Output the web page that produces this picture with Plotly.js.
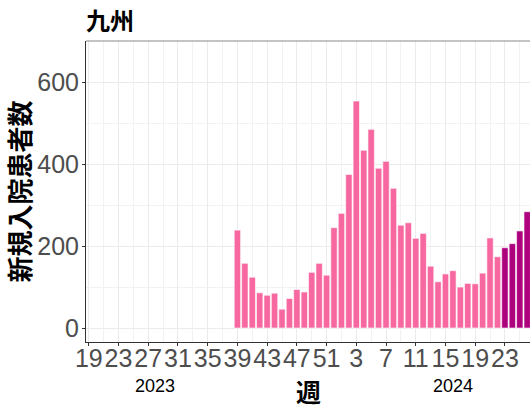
<!DOCTYPE html>
<html>
<head>
<meta charset="utf-8">
<script src="https://cdn.plot.ly/plotly-3.0.1.min.js"></script>
<style>
html,body{margin:0;padding:0;overflow:hidden;background:#fff;}
#chart{width:540px;height:409px;}
</style>
</head>
<body>
<div id="chart"></div>
<script>
// ---- data ----
const weeks2023 = [39,40,41,42,43,44,45,46,47,48,49,50,51,52];
const values2023 = [239,158,124,86,80,85,46,72,94,88,136,158,129,245];
const weeks2024 = [1,2,3,4,5,6,7,8,9,10,11,12,13,14,15,16,17,18,19,20,21,22,23,24,25,26];
const values2024 = [280,375,554,434,485,390,407,341,251,257,219,231,151,113,132,140,100,109,108,134,220,174,196,206,237,284];
const darkFromWeek2024 = 23;   // bars from this 2024 week use the darker colour
const tickWeeks = [19,23,27,31,35,39,43,47,51,3,7,11,15,19,23];
const tickYears = [2023,2023,2023,2023,2023,2023,2023,2023,2023,2024,2024,2024,2024,2024,2024];
const yearLabels = ['2023','2024'];
const startYear = 2023, startWeek = 19, weeksPerYear = 52;

function pos(year, week){ return (year - startYear) * weeksPerYear + week - startWeek; }

const xs = [], ys = [], cols = [], txt = [];
weeks2023.forEach((w,i)=>{ xs.push(pos(2023,w)); ys.push(values2023[i]); cols.push('#F768A1'); txt.push('2023-W'+w); });
weeks2024.forEach((w,i)=>{ xs.push(pos(2024,w)); ys.push(values2024[i]); cols.push(w >= darkFromWeek2024 ? '#AE017E' : '#F768A1'); txt.push('2024-W'+w); });

const tickvals = tickWeeks.map((w,i)=>pos(tickYears[i], w));
const ticktext = tickWeeks.map(String);

const cjk = '"Noto Sans CJK JP", "Noto Sans CJK SC", sans-serif';
const latin = '"Liberation Sans", Arial, sans-serif';

const trace = {
  type:'bar', x:xs, y:ys, text:txt, hoverinfo:'text+y', textposition:'none',
  width:0.86,
  marker:{color:cols, line:{color:'#ffffff', width:0.6}}
};

const layout = {
  width:540, height:409,
  margin:{l:86, r:9, t:41, b:67, pad:0},
  paper_bgcolor:'#fff', plot_bgcolor:'#fff',
  showlegend:false,
  bargap:0,
  title:{text:'<b>九州</b>', font:{family:cjk, size:24, color:'#000'},
         x:86/540, xref:'container', xanchor:'left', y:1-22/409, yref:'container', yanchor:'middle'},
  xaxis:{
    range:[-0.377, 59.51],
    tickmode:'array', tickvals:tickvals, ticktext:ticktext, tickangle:0,
    tickfont:{family:latin, size:25, color:'#4d4d4d'},
    ticklabelstandoff:-9,
    ticks:'outside', ticklen:3, tickcolor:'#333', tickwidth:1,
    showgrid:true, gridcolor:'#ebebeb', gridwidth:1,
    minor:{tickmode:'linear', tick0:0, dtick:2, showgrid:true, gridcolor:'#f2f2f2', gridwidth:1, ticks:''},
    showline:true, linecolor:'#333', linewidth:1,
    zeroline:false, fixedrange:true,
    title:{text:'<b>週</b>', font:{family:cjk, size:25, color:'#000'}, standoff:14}
  },
  yaxis:{
    range:[-34.1, 700.7],
    tickmode:'linear', tick0:0, dtick:200,
    tickfont:{family:latin, size:25, color:'#4d4d4d'},
    ticklabelstandoff:-2,
    ticks:'outside', ticklen:3, tickcolor:'#333', tickwidth:1,
    showgrid:true, gridcolor:'#ebebeb', gridwidth:1,
    minor:{tickmode:'linear', tick0:0, dtick:100, showgrid:true, gridcolor:'#f2f2f2', gridwidth:1, ticks:''},
    showline:true, linecolor:'#333', linewidth:1,
    zeroline:false, fixedrange:true,
    title:{text:'<b>新規入院患者数</b>', font:{family:cjk, size:26, color:'#000'}, standoff:4}
  },
  shapes:[
    {type:'line', xref:'paper', yref:'paper', x0:0, x1:1, y0:1, y1:1, line:{color:'#888', width:1}},
    {type:'line', xref:'paper', yref:'paper', x0:1, x1:1, y0:0, y1:1, line:{color:'#888', width:1}}
  ],
  annotations:[
    {text:yearLabels[0], xref:'x', x:8.9, yref:'paper', y:-(386-342)/301, xanchor:'center', yanchor:'middle', showarrow:false, font:{family:latin, size:18, color:'#000'}},
    {text:yearLabels[1], xref:'x', x:49.0, yref:'paper', y:-(386-342)/301, xanchor:'center', yanchor:'middle', showarrow:false, font:{family:latin, size:18, color:'#000'}}
  ]
};

Plotly.newPlot('chart', [trace], layout, {displayModeBar:false, staticPlot:true});
</script>
</body>
</html>
